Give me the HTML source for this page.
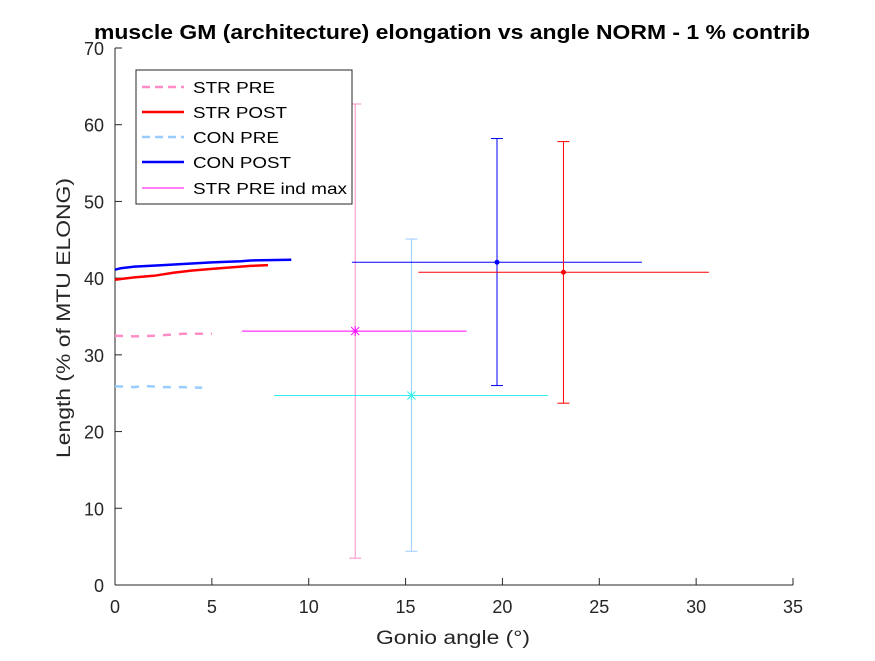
<!DOCTYPE html>
<html><head><meta charset="utf-8"><style>
body{margin:0;background:#fff;}
svg text{font-family:"Liberation Sans",Arial,sans-serif;}
</style></head><body>
<svg id="chart" width="875" height="656" xmlns="http://www.w3.org/2000/svg">
<rect width="875" height="656" fill="#fff"/>
<text x="94" y="39" font-size="20" font-weight="bold" fill="#000" textLength="716" lengthAdjust="spacingAndGlyphs">muscle GM (architecture) elongation vs angle NORM - 1 % contrib</text>
<g id="axes"></g>
<g id="marks"></g>
<text x="376" y="644" font-size="19" fill="#262626" textLength="154" lengthAdjust="spacingAndGlyphs">Gonio angle (°)</text>
<text transform="translate(70,458) rotate(-90)" font-size="19" fill="#262626" textLength="280" lengthAdjust="spacingAndGlyphs">Length (% of MTU ELONG)</text>
<g>
<rect x="136" y="70" width="216" height="134" fill="#fff" stroke="#262626" stroke-width="1"/>
<g><line x1="142" y1="87" x2="184" y2="87" stroke="#ff8cc6" stroke-width="2.5" stroke-dasharray="8,5"/><text x="193" y="93" font-size="16" fill="#000" textLength="82" lengthAdjust="spacingAndGlyphs">STR PRE</text></g>
<g><line x1="142" y1="112" x2="184" y2="112" stroke="#ff0000" stroke-width="2.5"/><text x="193" y="118" font-size="16" fill="#000" textLength="94" lengthAdjust="spacingAndGlyphs">STR POST</text></g>
<g><line x1="142" y1="137" x2="184" y2="137" stroke="#99ccff" stroke-width="2.5" stroke-dasharray="8,5"/><text x="193" y="143" font-size="16" fill="#000" textLength="86" lengthAdjust="spacingAndGlyphs">CON PRE</text></g>
<g><line x1="142" y1="162" x2="184" y2="162" stroke="#0000ff" stroke-width="2.5"/><text x="193" y="168" font-size="16" fill="#000" textLength="98" lengthAdjust="spacingAndGlyphs">CON POST</text></g>
<g><line x1="142" y1="188" x2="184" y2="188" stroke="#ff00ff" stroke-width="1"/><text x="193" y="194" font-size="16" fill="#000" textLength="154" lengthAdjust="spacingAndGlyphs">STR PRE ind max</text></g>
</g>
</svg>
<script>
const xTicks=[0,5,10,15,20,25,30,35];
const yTicks=[0,10,20,30,40,50,60,70];
const strPreX=[0,1,2,2.7,3.5,4.5,5.0];
const strPreY=[32.5,32.4,32.5,32.6,32.75,32.75,32.75];
const strPostX=[0,0.5,1,2,2.5,3,4,5,6,7,7.9];
const strPostY=[39.8,39.95,40.1,40.3,40.5,40.7,41.0,41.2,41.4,41.6,41.7];
const conPreX=[0,1,1.5,2.5,3.5,4.5];
const conPreY=[25.9,25.8,25.95,25.8,25.8,25.7];
const conPostX=[0,0.3,1,2.5,3.5,5,6.5,7,9.1];
const conPostY=[41.1,41.3,41.5,41.7,41.85,42.05,42.2,42.3,42.4];
const ebNames=['str-pre-errorbar','con-pre-errorbar','con-post-errorbar','str-post-errorbar'];
const ebColors=['#ff8cc6','#99ccff','#0000ff','#ff0000'];
const ebX=[12.4,15.3,19.72,23.15];
const ebY=[33.1,24.7,42.07,40.77];
const ebYLo=[3.5,4.4,26.0,23.7];
const ebYHi=[62.7,45.1,58.2,57.8];
const hbColors=['#ff00ff','#33eeee','#0000ff','#ff0000'];
const hbY=[33.1,24.7,42.07,40.77];
const hbXLo=[6.55,8.2,12.23,15.66];
const hbXHi=[18.15,22.35,27.2,30.66];
const starX=[12.4,15.3];
const starY=[33.1,24.7];
const starColors=['#ff00ff','#33eeee'];

const NS='http://www.w3.org/2000/svg';
const X=v=>115+v*(793-115)/35;
const Y=v=>585-v*(585-48)/70;
const axes=document.getElementById('axes'),marks=document.getElementById('marks');
function mk(tag,attrs,parent){const e=document.createElementNS(NS,tag);for(const k in attrs)e.setAttribute(k,attrs[k]);parent.appendChild(e);return e;}
let l=mk('line',{x1:115,y1:585,x2:793,y2:585,stroke:'#262626'},axes);


l=mk('line',{x1:115,y1:585,x2:115,y2:48,stroke:'#262626'},axes);


xTicks.forEach(t=>{
 const tk=mk('line',{x1:X(t),y1:585,x2:X(t),y2:578,stroke:'#262626'},axes);
 
 
 const tx=mk('text',{x:X(t),y:613,'text-anchor':'middle','font-size':18,fill:'#262626'},axes);tx.textContent=t;
 
 
});
yTicks.forEach(t=>{
 const tk=mk('line',{x1:115,y1:Y(t),x2:122,y2:Y(t),stroke:'#262626'},axes);
 
 
 const tx=mk('text',{x:104,y:Y(t)+7,'text-anchor':'end','font-size':18,fill:'#262626'},axes);tx.textContent=t;
 
 
});
function series(xs,ys,color,dash,name){
 const d=xs.map((x,i)=>(i?'L':'M')+X(x).toFixed(1)+','+Y(ys[i]).toFixed(1)).join('');
 const p=mk('path',{d:d,fill:'none',stroke:color,'stroke-width':2.5},marks);
 if(dash)p.setAttribute('stroke-dasharray','8,8');
 
 
}
series(strPreX,strPreY,'#ff8cc6',true,'str-pre-line');
series(conPreX,conPreY,'#99ccff',true,'con-pre-line');
series(strPostX,strPostY,'#ff0000',false,'str-post-line');
series(conPostX,conPostY,'#0000ff',false,'con-post-line');
ebX.forEach((x,i)=>{
 const g=mk('g',{},marks);
 
 
 mk('line',{x1:X(hbXLo[i]),y1:Y(hbY[i]),x2:X(hbXHi[i]),y2:Y(hbY[i]),stroke:hbColors[i],'stroke-width':1},g);
 mk('line',{x1:X(x),y1:Y(ebYLo[i]),x2:X(x),y2:Y(ebYHi[i]),stroke:ebColors[i],'stroke-width':1},g);
 mk('line',{x1:X(x)-6,y1:Y(ebYLo[i]),x2:X(x)+6,y2:Y(ebYLo[i]),stroke:ebColors[i],'stroke-width':1},g);
 mk('line',{x1:X(x)-6,y1:Y(ebYHi[i]),x2:X(x)+6,y2:Y(ebYHi[i]),stroke:ebColors[i],'stroke-width':1},g);
 if(i>=2)mk('circle',{cx:X(x),cy:Y(ebY[i]),r:2.5,fill:ebColors[i]},g);
});
starX.forEach((x,i)=>{
 const g=mk('g',{stroke:starColors[i],'stroke-width':1},marks);
 
 
 const cx=X(x),cy=Y(starY[i]);
 mk('line',{x1:cx-4,y1:cy,x2:cx+4,y2:cy},g);
 mk('line',{x1:cx,y1:cy-5,x2:cx,y2:cy+5},g);
 mk('line',{x1:cx-4,y1:cy-4,x2:cx+4,y2:cy+4},g);
 mk('line',{x1:cx-4,y1:cy+4,x2:cx+4,y2:cy-4},g);
});
</script>
</body></html>
